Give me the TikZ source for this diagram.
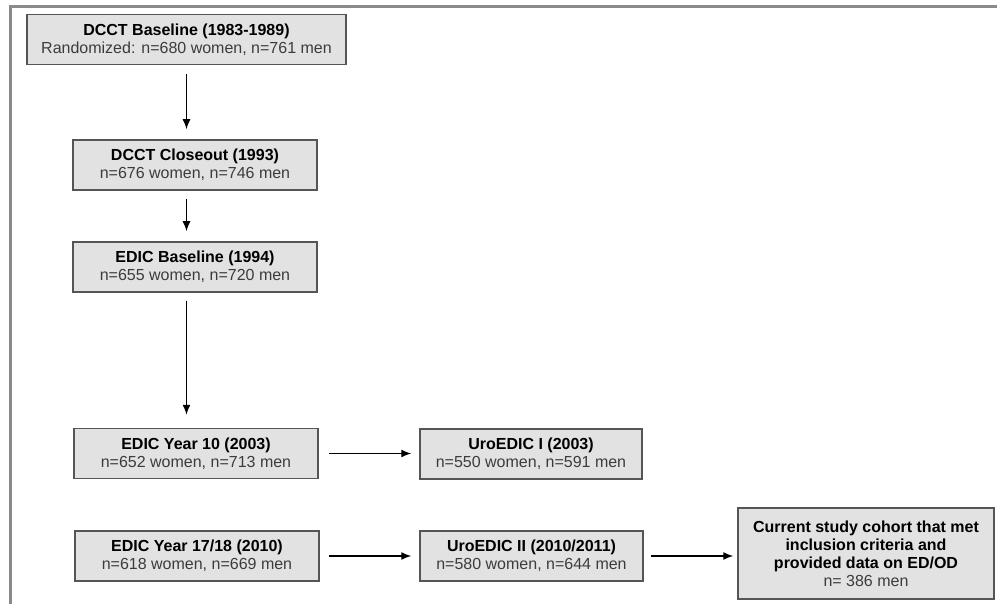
\documentclass[tikz,border=0pt]{standalone}
\usepackage{fontspec}
\setmainfont{Liberation Sans}
\usetikzlibrary{arrows.meta}

\definecolor{BoxFill}{HTML}{E2E2E2}
\definecolor{BoxLine}{HTML}{555555}
\definecolor{SubText}{HTML}{3C3C3C}
\definecolor{FrameLine}{HTML}{8A8A8A}

\tikzset{
	stagebox/.style={draw=BoxLine, fill=BoxFill, line width=1.5pt, inner sep=0pt,
		align=center, font=\fontsize{16}{18}\selectfont, minimum height=50pt},
	flowarrow/.style={line width=1.4pt, -{Latex[length=10pt,width=8pt]}},
}
\newcommand{\StageText}[2]{\textbf{#1}\\\textcolor{SubText}{#2}}

\begin{document}
\begin{tikzpicture}[x=1pt,y=-1pt]
	\useasboundingbox (0,0) rectangle (997,604);
	\draw [FrameLine, line width=2.5pt] (10.5,604) -- (10.5,6.5) -- (997,6.5);% open frame
	
	% left column
	\node [stagebox, minimum width=319pt] (DCCTBaseline) at (186.5,39.5) {\StageText{DCCT Baseline (1983-1989)}{Randomized: n=680 women, n=761 men}};
	\node [stagebox, minimum width=244pt] (DCCTCloseout) at (195,165) {\StageText{DCCT Closeout (1993)}{n=676 women, n=746 men}};
	\node [stagebox, minimum width=244pt] (EDICBaseline) at (195,267) {\StageText{EDIC Baseline (1994)}{n=655 women, n=720 men}};
	\node [stagebox, minimum width=244pt] (EDICYearTen) at (196,453.5) {\StageText{EDIC Year 10 (2003)}{n=652 women, n=713 men}};
	\node [stagebox, minimum width=244pt] (EDICYearSeventeen) at (197,556) {\StageText{EDIC Year 17/18 (2010)}{n=618 women, n=669 men}};
	
	% UroEDIC column
	\node [stagebox, minimum width=222pt] (UroEDICOne) at (531,454) {\StageText{UroEDIC I (2003)}{n=550 women, n=591 men}};
	\node [stagebox, minimum width=223pt] (UroEDICTwo) at (531.5,556) {\StageText{UroEDIC II (2010/2011)}{n=580 women, n=644 men}};
	
	% study cohort
	\node [stagebox, minimum width=256pt, minimum height=91pt] (StudyCohort) at (866,553.5) {\textbf{Current study cohort that met}\\\textbf{inclusion criteria and}\\\textbf{provided data on ED/OD}\\\textcolor{SubText}{n= 386 men}};
	
	\draw [flowarrow, shorten <=9pt, shorten >=10pt] (DCCTBaseline.south) -- (DCCTBaseline.south |- DCCTCloseout.north);
	\draw [flowarrow, shorten <=8pt, shorten >=10pt] (DCCTCloseout.south -| DCCTBaseline) -- (EDICBaseline.north -| DCCTBaseline);
	\draw [flowarrow, shorten <=8pt, shorten >=13pt] (EDICBaseline.south -| DCCTBaseline) -- (EDICYearTen.north -| DCCTBaseline);
	\draw [flowarrow, shorten <=10pt, shorten >=8pt] (EDICYearTen.east) -- (UroEDICOne.west |- EDICYearTen.east);
	\draw [flowarrow, shorten <=9pt, shorten >=8pt] (EDICYearSeventeen.east) -- (UroEDICTwo.west |- EDICYearSeventeen.east);
	\draw [flowarrow, shorten <=7pt, shorten >=4pt] (UroEDICTwo.east) -- (StudyCohort.west |- UroEDICTwo.east);
\end{tikzpicture}
\end{document}
